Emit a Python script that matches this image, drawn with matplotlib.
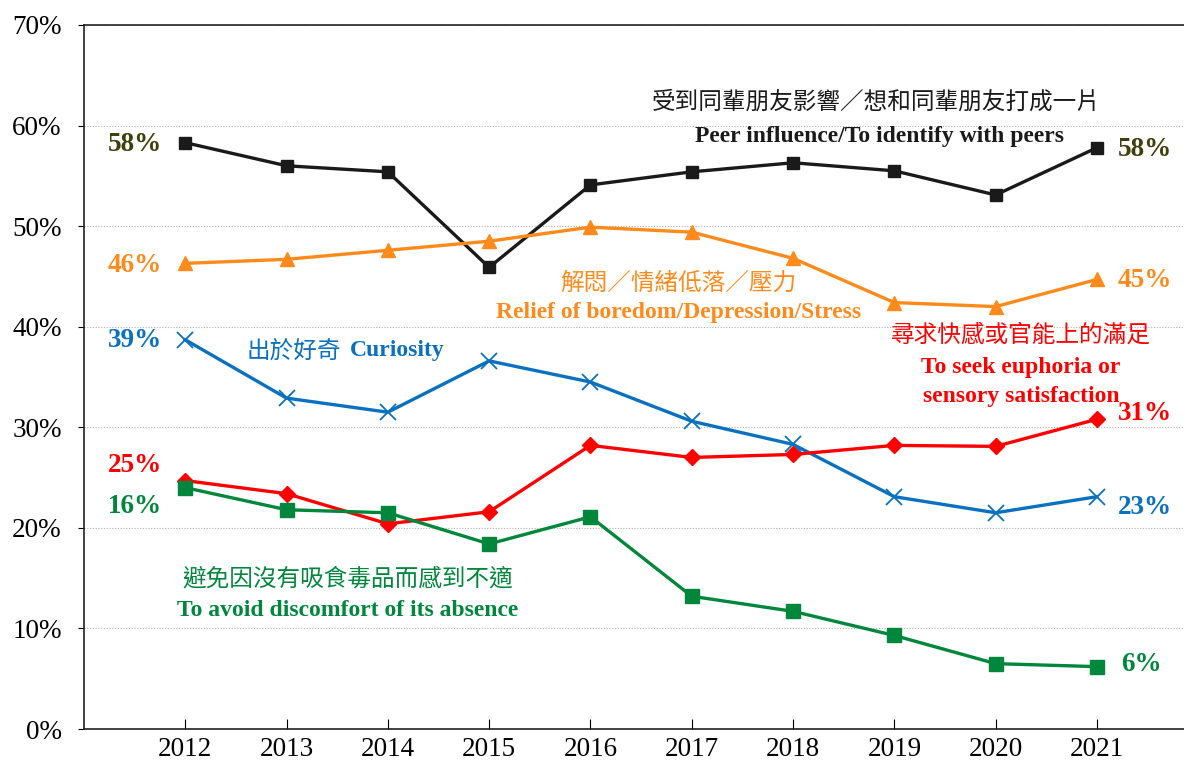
import matplotlib.pyplot as plt

years = [2012, 2013, 2014, 2015, 2016, 2017, 2018, 2019, 2020, 2021]
peer = [58.3, 56.0, 55.4, 45.9, 54.1, 55.4, 56.3, 55.5, 53.1, 57.8]
relief = [46.3, 46.7, 47.6, 48.5, 49.9, 49.4, 46.8, 42.4, 42.0, 44.7]
curiosity = [38.7, 32.9, 31.5, 36.6, 34.5, 30.6, 28.3, 23.1, 21.5, 23.1]
euphoria = [24.7, 23.4, 20.4, 21.6, 28.2, 27.0, 27.3, 28.2, 28.1, 30.8]
avoid = [24.0, 21.8, 21.5, 18.4, 21.1, 13.2, 11.7, 9.3, 6.5, 6.2]

left_labels = ["58%", "46%", "39%", "25%", "16%"]
right_labels = ["58%", "45%", "31%", "23%", "6%"]

BLACK = "#1a1a1a"
ORANGE = "#FF8A1C"
BLUE = "#0A70C0"
RED = "#FF0000"
GREEN = "#00873C"
OLIVE = "#3F3F0A"

serif = "Liberation Serif"
cjk = "Noto Sans CJK TC"

fig = plt.figure(figsize=(11.84, 7.64), dpi=100)
ax = fig.add_axes([0.0709, 0.0458, 0.93, 0.9215])

ax.plot(years, peer, color=BLACK, lw=2.4, marker="s", ms=9)
ax.plot(years, relief, color=ORANGE, lw=2.4, marker="^", ms=10)
ax.plot(years, curiosity, color=BLUE, lw=2.4, marker="x", ms=12, mew=1.3)
ax.plot(years, euphoria, color=RED, lw=2.4, marker="D", ms=8)
ax.plot(years, avoid, color=GREEN, lw=2.4, marker="s", ms=10)

ax.set_xlim(2011, 2021.87)
ax.set_ylim(0, 70)
ax.set_yticks(range(0, 71, 10))
ax.set_yticklabels([f"{v}%" for v in range(0, 71, 10)])
ax.set_xticks(years)
ax.grid(axis="y", color="#b0b0b0", linestyle=(0, (1, 1.5)), lw=0.8)
ax.set_axisbelow(True)
ax.spines["right"].set_visible(False)
for s in ["left", "bottom", "top"]:
    ax.spines[s].set_color("#222222")
    ax.spines[s].set_linewidth(1.2)
ax.tick_params(axis="x", direction="in", length=7, pad=6, labelsize=19.5)
ax.tick_params(axis="y", direction="out", length=4, pad=12, labelsize=19.5)
for lab in ax.get_xticklabels() + ax.get_yticklabels():
    lab.set_fontfamily(serif)

# end value labels
lcols = [OLIVE, ORANGE, BLUE, RED, GREEN]
ly = [58.1, 46.1, 38.6, 26.2, 22.1]
for t, c, y in zip(left_labels, lcols, ly):
    ax.text(2011.5, y, t, color=c, fontsize=19.5, fontweight="bold",
            family=serif, ha="center", va="center")
rcols = [OLIVE, ORANGE, RED, BLUE, GREEN]
ry = [57.6, 44.6, 31.4, 22.0, 6.4]
rx = [2021.47, 2021.47, 2021.47, 2021.47, 2021.44]
for t, c, y, x in zip(right_labels, rcols, ry, rx):
    ax.text(x, y, t, color=c, fontsize=19.5, fontweight="bold",
            family=serif, ha="center", va="center")

# series captions
ax.text(2018.82, 62.3, "受到同輩朋友影響／想和同輩朋友打成一片", color=BLACK,
        fontsize=17, family=cjk, ha="center", va="center")
ax.text(2018.85, 58.9, "Peer influence/To identify with peers", color=BLACK,
        fontsize=17, fontweight="bold", family=serif, ha="center", va="center")

ax.text(2016.87, 44.3, "解悶／情緒低落／壓力", color=ORANGE,
        fontsize=17, family=cjk, ha="center", va="center")
ax.text(2016.87, 41.4, "Relief of boredom/Depression/Stress", color=ORANGE,
        fontsize=17, fontweight="bold", family=serif, ha="center", va="center")

ax.text(2012.61, 37.6, "出於好奇", color=BLUE,
        fontsize=17, family=cjk, ha="left", va="center")
ax.text(2013.63, 37.6, "Curiosity", color=BLUE,
        fontsize=17, fontweight="bold", family=serif, ha="left", va="center")

ax.text(2020.25, 39.2, "尋求快感或官能上的滿足", color=RED,
        fontsize=17, family=cjk, ha="center", va="center")
ax.text(2020.25, 35.9, "To seek euphoria or", color=RED,
        fontsize=17, fontweight="bold", family=serif, ha="center", va="center")
ax.text(2020.25, 33.1, "sensory satisfaction", color=RED,
        fontsize=17, fontweight="bold", family=serif, ha="center", va="center")

ax.text(2013.60, 14.9, "避免因沒有吸食毒品而感到不適", color=GREEN,
        fontsize=17, family=cjk, ha="center", va="center")
ax.text(2013.60, 11.8, "To avoid discomfort of its absence", color=GREEN,
        fontsize=17, fontweight="bold", family=serif, ha="center", va="center")

fig.savefig("out.png", dpi=100)
